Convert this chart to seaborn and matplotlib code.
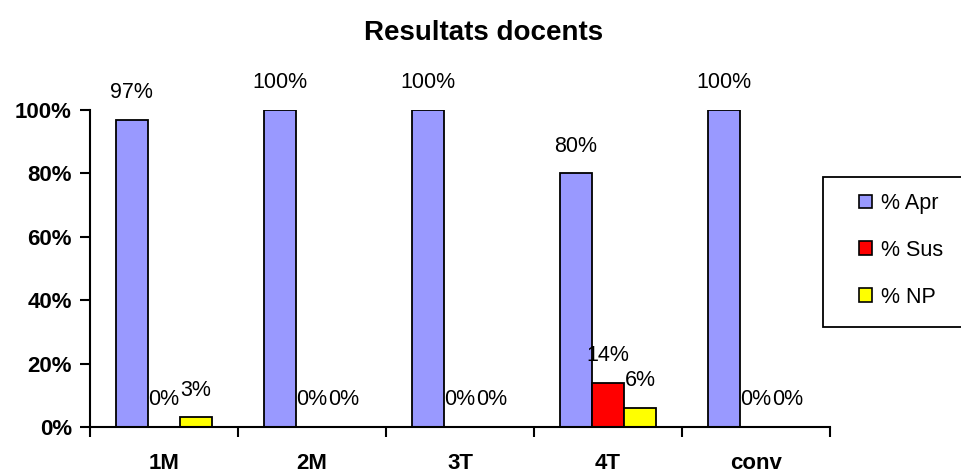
import pandas as pd
import seaborn as sns
import matplotlib.pyplot as plt
from matplotlib.patches import Patch, Rectangle

categories = ['1M', '2M', '3T', '4T', 'conv']
pct_apr = [97, 100, 100, 80, 100]
pct_sus = [0, 0, 0, 14, 0]
pct_np = [3, 0, 0, 6, 0]
series = ['% Apr', '% Sus', '% NP']
colors = ['#9999FF', '#FF0000', '#FFFF00']

rows = []
for name, vals in zip(series, [pct_apr, pct_sus, pct_np]):
    for cat, v in zip(categories, vals):
        rows.append([cat, name, v / 100])
df = pd.DataFrame(rows, columns=['cat', 'serie', 'val'])

sns.set_style('white')
plt.rcParams['font.family'] = ['Liberation Sans', 'DejaVu Sans']
plt.rcParams['text.color'] = 'black'
plt.rcParams['xtick.color'] = 'black'
plt.rcParams['ytick.color'] = 'black'

fig = plt.figure(figsize=(9.62, 4.74), dpi=100)
ax = fig.add_axes([90 / 962, 1 - 427 / 474, 740 / 962, 317 / 474])

sns.barplot(data=df, x='cat', y='val', hue='serie', hue_order=series,
            palette=colors, saturation=1, width=0.65, gap=0,
            edgecolor='black', linewidth=1.3, legend=False, ax=ax)

for cont in ax.containers:
    ax.bar_label(cont, labels=['%d%%' % round(b.get_height() * 100) for b in cont],
                 padding=12, fontsize=15.5)

ax.set_ylim(0, 1)
ax.set_xlim(-0.5, 4.5)
ax.set_yticks([0, 0.2, 0.4, 0.6, 0.8, 1.0])
ax.set_yticklabels(['0%', '20%', '40%', '60%', '80%', '100%'],
                   fontsize=16, fontweight='bold')
ax.set_xticks(range(len(categories)))
ax.set_xticklabels(categories, fontsize=16, fontweight='bold')
ax.tick_params(axis='x', length=0, pad=19)
ax.set_xticks([-0.5, 0.5, 1.5, 2.5, 3.5, 4.5], minor=True)
ax.tick_params(axis='x', which='minor', length=7, width=1.5,
               direction='out', bottom=True)
ax.tick_params(axis='y', length=7, width=1.5, direction='out',
               left=True, pad=6)
ax.set_xlabel('')
ax.set_ylabel('')
for s in ['top', 'right']:
    ax.spines[s].set_visible(False)
for s in ['left', 'bottom']:
    ax.spines[s].set_color('black')
    ax.spines[s].set_linewidth(1.5)

fig.text(484 / 962, 1 - 33 / 474, 'Resultats docents', ha='center', va='center',
         fontsize=20, fontweight='bold')

# legend box (runs off the right edge like the original)
fig.patches.append(Rectangle((823 / 962, 1 - 327 / 474), 160 / 962, 150 / 474,
                             transform=fig.transFigure, facecolor='white',
                             edgecolor='black', linewidth=1.3))
handles = [Patch(facecolor=c, edgecolor='black', linewidth=1.2) for c in colors]
fig.legend(handles, series, loc='upper left',
           bbox_to_anchor=(859 / 962, 1 - 193 / 474),
           frameon=False, fontsize=15.5,
           handlelength=0.6, handleheight=0.6, handletextpad=0.4,
           labelspacing=1.2, borderpad=0, borderaxespad=0)

fig.savefig('out.png', dpi=100)
